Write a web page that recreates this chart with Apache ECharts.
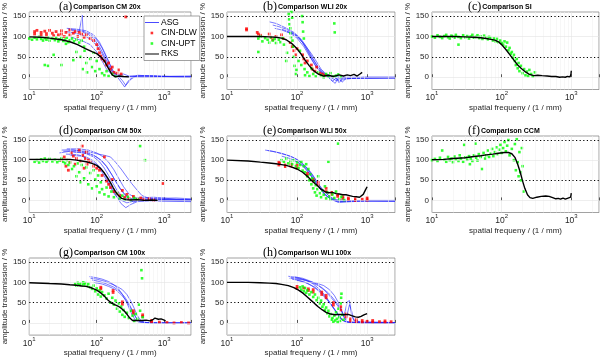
<!DOCTYPE html>
<html>
<head>
<meta charset="utf-8">
<script src="https://cdn.jsdelivr.net/npm/echarts@6/dist/echarts.min.js"></script>
<style>
  html, body { margin: 0; padding: 0; background: #fff; }
  #main { width: 602px; height: 358px; }
</style>
</head>
<body>
<div id="main"></div>
<script>
// ---- data ----
// (a) Comparison CM 20x
var asgA = [
  [[38,118],[50,116],[65,112],[80,106],[100,92],[120,72],[140,48],[160,28],[180,12],[210,3],[300,1],[500,0],[1000,1],[2500,0]],
  [[42,115],[55,112],[61,152],[63,110],[75,105],[90,95],[110,75],[130,52],[150,30],[175,10],[200,2],[260,-24],[290,-10],[350,2],[700,3],[1500,1],[2500,1]],
  [[35,112],[45,109],[60,104],[80,94],[100,78],[120,58],[140,35],[165,15],[200,5],[250,8],[300,3],[600,4],[1200,2],[2500,2]],
  [[40,100],[48,95],[60,90],[80,80],[100,62],[120,40],[140,20],[170,5],[220,0],[400,3],[900,2],[2500,3]],
  [[36,120],[50,118],[70,114],[90,104],[110,86],[130,62],[150,40],[170,18],[200,6],[240,-8],[270,-20],[320,-5],[400,5],[800,2],[2500,0]]
];
var dlwA = [[12,112],[12,106],[13,115],[15,110],[15,104],[17,113],[18,107],[18,100],[20,115],[22,108],[23,102],[25,112],[27,104],[30,114],[30,106],[33,100],[35,110],[40,116],[40,104],[45,108],[48,112],[52,100],[55,110],[60,106],[65,98],[70,104],[80,95],[90,90],[100,80],[105,70],[110,60],[115,52],[120,45],[130,40],[140,30],[150,35],[160,20],[170,25],[180,12],[200,10],[210,18],[230,8],[270,148]];
var uptA = [[10,95],[11,92],[12,97],[13,93],[14,99],[15,94],[16,90],[17,96],[18,92],[19,98],[20,90],[22,95],[24,91],[25,97],[27,88],[28,93],[30,96],[32,89],[34,92],[36,97],[38,86],[40,91],[43,95],[46,88],[50,92],[55,85],[60,90],[17,30],[19,28],[23,55],[30,30],[45,42],[50,62],[58,50],[62,20],[66,65],[70,35],[72,12],[80,45],[85,25],[90,60],[95,15],[100,40],[110,20],[120,10],[130,5],[140,15],[150,3],[170,8],[190,2],[35,82],[65,75]];
var rksA = [[10,99],[15,98],[20,96],[30,92],[40,87],[52,80],[68,70],[85,63],[100,58],[115,50],[130,40],[140,30],[155,17],[170,6],[190,1],[215,3],[250,2],[300,1]];

// (b) Comparison WLI 20x
var asgB = [
  [[40,136],[50,132],[60,126],[75,118],[90,110],[110,97],[130,80],[150,62],[170,45],[200,25],[240,10],[280,2],[320,-10],[360,-2],[400,-14],[450,0],[550,-3],[800,-2],[1500,-2],[2500,-2]],
  [[45,128],[55,124],[70,118],[90,108],[110,94],[135,72],[160,50],[190,30],[220,15],[260,5],[300,-5],[350,-15],[390,0],[440,-12],[500,-3],[1000,-3],[2500,-2]],
  [[48,120],[60,116],[80,108],[100,96],[125,75],[150,52],[180,30],[210,15],[250,5],[300,0],[360,-8],[420,-2],[700,-2],[2500,-1]],
  [[70,112],[85,108],[100,100],[120,85],[140,65],[165,42],[195,22],[230,8],[280,0],[340,3],[400,-10],[460,-5],[900,0],[2500,0]],
  [[60,118],[75,112],[95,104],[115,90],[135,75],[160,58],[190,38],[220,20],[260,8],[320,2],[500,0],[2500,0]]
];
var dlwB = [[19,119],[19,116],[27,110],[28,106],[30,103],[40,106],[42,98],[45,92],[50,100],[60,104],[63,95],[80,85],[85,75],[90,65],[95,55],[100,70],[120,55],[125,45],[130,35],[140,40],[160,30],[165,20],[180,15],[190,25],[210,10],[230,8],[250,5]];
var uptB = [[28,95],[30,100],[32,88],[35,96],[38,92],[40,85],[42,98],[45,90],[48,94],[50,84],[55,92],[58,86],[62,96],[65,80],[28,62],[70,40],[72,60],[76,155],[77,142],[78,130],[80,120],[80,108],[82,98],[83,160],[85,146],[86,90],[88,75],[90,50],[92,28],[95,8],[98,18],[105,40],[110,65],[115,30],[118,150],[120,135],[122,112],[125,95],[128,20],[130,5],[140,12],[150,3],[160,22],[170,8],[185,2],[200,12],[220,5],[240,0],[260,8],[280,3],[300,10],[330,2],[340,132],[345,110],[360,4],[390,7],[420,1]];
var rksB = [[10,100],[20,100],[30,100],[40,99],[50,98],[60,96],[70,92],[85,82],[100,70],[115,56],[130,42],[150,28],[170,17],[200,8],[240,3],[280,5],[330,2],[400,6],[460,3],[520,6],[580,4],[650,7],[720,3],[790,8],[850,12]];

// (c) Comparison SI
var uptC = [[10,100],[11,97],[12,103],[13,99],[14,96],[15,101],[16,104],[17,98],[18,95],[19,102],[20,100],[21,97],[22,104],[24,99],[24,80],[26,96],[28,103],[30,98],[32,101],[34,95],[36,100],[38,104],[40,97],[42,99],[45,103],[48,96],[50,100],[53,94],[56,102],[60,98],[63,93],[66,99],[70,96],[74,90],[78,95],[82,88],[86,94],[90,86],[95,90],[100,84],[105,80],[110,88],[115,75],[120,85],[125,66],[130,72],[135,58],[140,62],[145,48],[150,55],[155,40],[160,30],[165,45],[170,22],[175,35],[180,15],[190,28],[200,10],[210,20],[220,5],[230,14],[240,3],[250,18],[265,8],[280,2],[300,12]];
var rksC = [[10,100],[20,100],[30,99],[40,98],[50,97],[60,95],[70,93],[80,91],[90,87],[100,80],[115,68],[130,56],[150,42],[170,30],[190,22],[220,13],[250,7],[290,4],[330,5],[380,4],[450,3],[520,2],[600,2],[680,0],[750,1],[820,0],[880,2],[930,3],[960,1],[990,8],[1000,16]];

// (d) Comparison CM 50x
var asgD = [
  [[28,118],[40,122],[55,120],[70,116],[90,108],[110,96],[130,80],[150,62],[175,42],[200,25],[240,10],[300,2],[500,0],[1000,2],[2500,1]],
  [[30,125],[45,126],[60,122],[80,116],[100,108],[120,98],[140,85],[165,66],[190,48],[220,30],[260,15],[320,5],[500,3],[1200,2],[2500,0]],
  [[35,115],[50,114],[70,108],[90,98],[110,84],[130,66],[150,46],[175,26],[200,8],[230,-8],[270,-18],[320,-10],[400,-3],[800,0],[2500,-1]],
  [[32,122],[50,124],[70,122],[100,116],[130,112],[160,108],[190,95],[230,78],[280,58],[330,42],[400,25],[470,12],[600,5],[1000,3],[2500,2]],
  [[40,112],[60,110],[80,100],[100,88],[120,70],[140,50],[160,32],[185,15],[220,2],[280,-6],[350,-2],[600,5],[1500,6],[2500,4]],
  [[45,120],[65,118],[90,112],[115,100],[140,84],[170,62],[200,42],[240,22],[290,6],[350,-4],[450,2],[900,-2],[2500,-3]],
  [[36,128],[55,128],[75,125],[100,118],[125,108],[150,95],[180,76],[210,56],[250,34],[300,16],[380,6],[700,8],[1500,3],[2500,2]]
];
var dlwD = [[30,100],[33,108],[35,85],[38,75],[40,95],[42,118],[45,110],[48,90],[50,104],[55,125],[58,98],[61,135],[62,112],[65,80],[68,104],[70,120],[72,90],[75,100],[80,96],[90,85],[100,80],[110,75],[120,62],[130,108],[140,48],[150,40],[160,32],[170,52],[180,22],[200,18],[220,12],[240,25],[260,8],[280,15],[300,5],[350,10],[400,3],[450,6],[500,2],[600,4],[700,1],[950,42]];
var uptD = [[12,96],[13,100],[14,94],[15,102],[16,98],[17,104],[18,96],[19,100],[20,103],[22,97],[24,101],[26,95],[28,99],[30,104],[32,96],[34,92],[36,100],[38,88],[40,94],[43,78],[46,85],[50,60],[52,92],[55,70],[58,45],[60,88],[65,55],[70,82],[75,40],[80,68],[85,30],[90,75],[95,52],[100,35],[105,62],[110,20],[115,45],[120,28],[130,15],[140,32],[150,10],[165,22],[180,8],[200,18],[220,5],[240,12],[260,2],[290,9],[320,1],[360,6],[400,3],[440,135],[520,100]];
var rksD = [[10,102],[20,102],[30,102],[40,102],[50,100],[60,98],[70,96],[85,92],[100,87],[115,79],[130,68],[145,56],[160,44],[175,32],[190,22],[210,12],[235,5],[270,2],[320,1],[400,2],[500,0],[650,1],[800,0]];

// (e) Comparison WLI 50x
var asgE = [
  [[35,125],[45,122],[60,117],[80,110],[100,102],[120,92],[140,80],[165,65],[190,48],[220,32],[260,18],[300,8],[360,2],[500,0],[1000,-1],[2500,-2]],
  [[38,124],[50,120],[70,113],[90,106],[110,96],[130,85],[155,70],[180,54],[210,36],[250,20],[300,8],[350,0],[450,-3],[800,-2],[2500,-2]],
  [[60,110],[80,104],[100,96],[120,86],[140,74],[160,60],[185,45],[215,28],[250,14],[300,4],[400,-2],[700,0],[2500,-1]],
  [[90,100],[110,92],[130,80],[150,66],[175,50],[200,36],[230,22],[270,10],[320,2],[400,-5],[600,-3],[1200,-1],[2500,-1]],
  [[120,90],[140,78],[165,60],[190,42],[220,26],[260,12],[310,2],[380,-4],[500,-2],[1000,0],[2500,0]]
];
var dlwE = [[55,95],[55,88],[56,92],[68,88],[68,84],[82,90],[82,85],[100,87],[100,80],[140,67],[140,62],[170,52],[170,48],[200,45],[200,38],[260,30],[260,22],[310,20],[310,15],[380,14],[380,10],[450,9],[450,5],[540,6],[540,2],[680,4],[680,0],[850,3],[1000,6],[1000,1]];
var uptE = [[60,100],[65,96],[70,104],[75,92],[80,98],[85,90],[90,100],[95,85],[100,94],[105,80],[110,88],[115,96],[120,74],[125,85],[130,70],[135,90],[140,60],[145,78],[150,50],[155,65],[160,40],[165,55],[170,30],[175,48],[180,20],[185,38],[190,12],[195,28],[200,60],[210,18],[220,8],[230,25],[240,14],[250,35],[260,5],[270,20],[280,96],[290,10],[300,2],[320,15],[340,6],[360,22],[385,141],[400,3],[430,9],[470,1]];
var rksE = [[10,100],[20,98],[30,95],[40,93],[50,91],[60,89],[70,87],[80,84],[100,78],[120,70],[140,60],[160,50],[180,42],[200,35],[220,28],[250,22],[280,19],[320,20],[360,17],[400,16],[450,14],[500,14],[560,12],[620,10],[700,9],[780,8],[830,6],[880,15],[940,25],[1000,34]];

// (f) Comparison CCM
var uptF = [[10,100],[11,103],[12,98],[13,106],[14,124],[15,101],[16,96],[17,108],[18,100],[19,104],[20,95],[21,109],[22,102],[24,98],[25,112],[26,104],[28,96],[29,138],[30,107],[32,101],[34,110],[35,90],[36,104],[38,98],[40,112],[42,141],[43,106],[45,99],[47,115],[50,108],[52,78],[55,118],[58,104],[60,112],[63,124],[66,108],[70,116],[73,128],[76,110],[80,120],[84,132],[88,115],[92,126],[96,138],[100,118],[105,130],[110,145],[115,122],[120,136],[125,150],[130,112],[140,128],[150,100],[155,140],[160,75],[165,152],[170,95],[175,60],[180,120],[185,70],[190,50],[195,130],[200,85],[205,22]];
var rksF = [[10,101],[15,102],[20,104],[30,106],[40,109],[50,111],[60,113],[75,115],[90,117],[110,119],[125,119],[140,116],[155,107],[170,90],[185,70],[200,48],[215,30],[235,14],[255,7],[280,5],[320,8],[370,10],[430,11],[480,10],[540,7],[600,4],[650,5],[700,3],[760,6],[820,3],[880,5],[940,2],[980,8],[1000,18]];

// (g) Comparison CM 100x
var asgG = [
  [[78,114],[95,112],[120,108],[150,102],[180,94],[210,84],[240,70],[270,55],[300,38],[330,22],[370,8],[420,2],[600,0],[1200,0],[2500,0]],
  [[80,110],[100,108],[130,103],[160,97],[200,90],[240,82],[280,70],[320,54],[360,36],[400,18],[450,6],[520,1],[1000,0],[2500,0]],
  [[85,106],[110,102],[140,96],[180,88],[220,78],[260,64],[300,48],[340,30],[380,14],[430,4],[600,0],[2500,0]],
  [[90,100],[120,96],[150,90],[190,82],[230,70],[270,56],[310,40],[350,24],[390,10],[450,2],[800,0],[2500,0]]
];
var dlwG = [[115,88],[115,84],[175,80],[175,75],[240,52],[240,46],[350,30],[350,24],[480,20],[480,16],[650,6],[650,3],[850,2],[1100,1],[1400,0],[1800,1],[2300,0]];
var uptG = [[48,96],[50,92],[52,99],[55,94],[58,97],[60,93],[63,100],[65,95],[68,98],[72,91],[75,96],[80,88],[85,84],[90,92],[95,78],[100,85],[105,70],[110,80],[115,65],[120,76],[130,68],[140,60],[150,72],[160,50],[170,62],[180,45],[190,55],[200,35],[210,48],[220,28],[230,40],[240,20],[250,32],[260,15],[280,25],[300,12],[320,30],[340,18],[360,5],[380,22],[400,10],[420,45],[440,30],[460,130],[470,110],[480,14]];
var rksG = [[10,99],[20,97],[30,96],[40,94],[50,93],[60,91],[70,90],[85,86],[100,81],[115,74],[130,66],[145,57],[165,49],[185,45],[210,41],[235,35],[260,28],[285,20],[310,12],[340,6],[400,6],[470,6],[540,7],[620,5],[680,8],[730,12],[780,14],[820,9],[860,6],[900,10],[950,12],[1000,7],[1050,5]];

// (h) Comparison WLI 100x
var asgH = [
  [[75,115],[90,113],[110,110],[140,104],[170,96],[200,86],[240,72],[280,56],[320,40],[370,24],[420,10],[480,3],[700,1],[1500,0],[2500,0]],
  [[80,112],[100,110],[130,106],[160,100],[200,92],[240,82],[280,70],[330,56],[380,42],[430,30],[470,18],[520,52],[560,55],[600,20],[650,5],[900,2],[2500,1]],
  [[85,108],[110,104],[140,98],[180,88],[220,76],[260,62],[300,48],[350,32],[400,18],[450,6],[550,1],[1000,0],[2500,0]],
  [[90,114],[120,110],[150,104],[190,96],[230,86],[280,74],[330,60],[380,46],[420,34],[460,18],[500,8],[560,45],[600,30],[640,8],[800,2],[2500,1]],
  [[100,105],[130,100],[160,92],[200,80],[240,66],[290,50],[340,34],[390,20],[440,8],[520,2],[1200,0],[2500,0]],
  [[78,110],[95,108],[120,106],[150,102],[190,98],[240,92],[290,82],[340,68],[390,50],[430,32],[470,12],[520,3],[800,0],[2500,0]]
];
var dlwH = [[100,90],[100,85],[125,86],[145,84],[145,80],[170,82],[170,76],[225,76],[225,70],[260,68],[260,62],[330,50],[330,44],[420,40],[420,32],[500,22],[500,15],[580,10],[580,5],[700,8],[700,3],[850,6],[850,2],[1000,4],[1200,6],[1200,2],[1500,3],[1800,5],[1800,1],[2200,3]];
var uptH = [[110,88],[115,82],[120,90],[125,78],[130,86],[135,74],[140,80],[150,70],[160,76],[170,64],[180,70],[190,56],[200,62],[210,48],[220,55],[230,40],[240,46],[250,32],[260,38],[270,24],[280,30],[290,16],[300,22],[310,8],[320,12],[330,3],[340,18],[350,6],[360,26],[370,10],[380,2],[390,35],[400,14],[410,5],[420,48],[425,62],[430,72],[440,20],[460,8]];
var rksH = [[10,100],[20,100],[30,99],[40,98],[50,97],[60,95],[75,92],[90,87],[105,81],[120,74],[140,64],[160,55],[180,47],[200,40],[230,32],[260,26],[300,22],[350,20],[400,21],[470,20],[540,21],[600,18],[680,15],[750,14],[820,16],[900,20],[1000,23]];

var panelLetters = ['a','b','c','d','e','f','g','h'];
var panelTitles = ['Comparison CM 20x','Comparison WLI 20x','Comparison SI','Comparison CM 50x','Comparison WLI 50x','Comparison CCM','Comparison CM 100x','Comparison WLI 100x'];
var minorX = [20,30,40,50,60,70,80,90,200,300,400,500,600,700,800,900,2000];

var panelData = [
  {asg: asgA, dlw: dlwA, upt: uptA, rks: rksA},
  {asg: asgB, dlw: dlwB, upt: uptB, rks: rksB},
  {asg: [],   dlw: [],   upt: uptC, rks: rksC},
  {asg: asgD, dlw: dlwD, upt: uptD, rks: rksD},
  {asg: asgE, dlw: dlwE, upt: uptE, rks: rksE},
  {asg: [],   dlw: [],   upt: uptF, rks: rksF},
  {asg: asgG, dlw: dlwG, upt: uptG, rks: rksG},
  {asg: asgH, dlw: dlwH, upt: uptH, rks: rksH}
];

// ---- layout ----
var colLeft = [23, 227, 432];
var rowTop = [12, 136, 258];
var rowH = [77.5, 76.5, 78];
var plotW = 168;
var FONT = 'Liberation Sans, Arial, sans-serif';
var TXT = '#262626';

var grids = [], xAxes = [], yAxes = [], series = [], titles = [];

panelData.forEach(function (d, i) {
  var col = i % 3, row = Math.floor(i / 3);
  var left = colLeft[col], top = rowTop[row];
  grids.push({
    left: left, top: top, width: plotW, height: rowH[row],
    show: true, borderColor: '#7a7a7a', borderWidth: 0.7, backgroundColor: '#fff'
  });
  xAxes.push({
    type: 'log', logBase: 10, min: 10, max: 2500, gridIndex: i,
    name: 'spatial frequeny / (1 / mm)', nameLocation: 'middle', nameGap: 12,
    nameTextStyle: {fontFamily: FONT, fontSize: 8, color: TXT},
    axisLine: {show: false},
    axisTick: {inside: true, length: 3, lineStyle: {color: '#555'}},
    splitLine: {show: true, lineStyle: {color: '#e4e4e4', width: 0.6}},
    axisLabel: {
      margin: 1, color: TXT,
      formatter: function (v) {
        var e = Math.log10(v);
        if (Math.abs(e - Math.round(e)) > 1e-6) return '';
        return '{b|10}{s|' + Math.round(e) + '}';
      },
      rich: {
        b: {fontFamily: FONT, fontSize: 8.5, color: TXT, lineHeight: 12, verticalAlign: 'bottom'},
        s: {fontFamily: FONT, fontSize: 6, color: TXT, lineHeight: 6, verticalAlign: 'top'}
      }
    }
  });
  yAxes.push({
    type: 'value', min: -30, max: 160, interval: 10, gridIndex: i,
    name: 'amplitude transmission / %', nameLocation: 'middle', nameGap: 14,
    nameTextStyle: {fontFamily: FONT, fontSize: 8, color: TXT},
    axisLine: {show: false}, axisTick: {show: false}, splitLine: {show: false},
    axisLabel: {
      margin: 3, fontFamily: FONT, fontSize: 8, color: TXT,
      formatter: function (v) { return v % 50 === 0 ? String(v) : ''; }
    }
  });
  // faint grid: minor x lines and y major lines
  series.push({
    type: 'line', xAxisIndex: i, yAxisIndex: i, data: [], silent: true, z: 1,
    markLine: {
      silent: true, symbol: 'none', label: {show: false}, animation: false,
      lineStyle: {color: '#f1f1f1', width: 0.6, type: 'solid'},
      data: minorX.map(function (v) { return {xAxis: v}; })
        .concat([0, 100].map(function (v) { return {yAxis: v, lineStyle: {color: '#e2e2e2'}}; }))
    }
  });
  d.asg.forEach(function (c) {
    series.push({
      type: 'line', name: 'ASG', xAxisIndex: i, yAxisIndex: i, data: c,
      symbol: 'none', z: 2, animation: false,
      lineStyle: {color: '#2020ff', width: 0.8, opacity: 0.75},
      itemStyle: {color: '#2020ff'}
    });
  });
  if (d.dlw.length) {
    series.push({
      type: 'scatter', name: 'CIN-DLW', xAxisIndex: i, yAxisIndex: i, data: d.dlw,
      symbol: 'rect', symbolSize: 2.8, z: 3, animation: false,
      itemStyle: {color: '#ff0000'}
    });
  }
  series.push({
    type: 'scatter', name: 'CIN-UPT', xAxisIndex: i, yAxisIndex: i, data: d.upt,
    symbol: 'rect', symbolSize: 2.6, z: 4, animation: false,
    itemStyle: {color: '#00ff00'}
  });
  series.push({
    type: 'line', name: 'RKS', xAxisIndex: i, yAxisIndex: i, data: d.rks,
    symbol: 'none', z: 5, animation: false,
    lineStyle: {color: '#000', width: 1.4},
    itemStyle: {color: '#000'},
    markLine: {
      silent: true, symbol: 'none', label: {show: false}, animation: false,
      lineStyle: {color: '#000', width: 1.1, type: [1.2, 2.4]},
      data: [{yAxis: 50}, {yAxis: 150}]
    }
  });
  var tleft = left + plotW / 2 - 48;
  titles.push({
    text: '{p|(' + panelLetters[i] + ')}{t|' + panelTitles[i] + '}',
    left: tleft, top: top - 12, padding: 0,
    textStyle: {
      fontWeight: 'normal',
      rich: {
        p: {fontFamily: 'Liberation Serif, serif', fontSize: 12, fontWeight: 'normal', color: '#000', lineHeight: 13},
        t: {fontFamily: FONT, fontSize: 7, fontWeight: 'bold', color: '#000', lineHeight: 13, padding: [2, 0, 0, 1]}
      }
    }
  });
});

// legend icons: thin line for curves, small square for markers (padded paths)
var lineIcon = 'path://M0,0L0,0M14,8L14,8M0,3.5h14v1h-14z';
var sqIcon = 'path://M0,0L0,0M14,8L14,8M5.6,2.7h2.6v2.6h-2.6z';
var chart = echarts.init(document.getElementById('main'), null, {renderer: 'canvas'});
chart.setOption({
  animation: false,
  backgroundColor: '#fff',
  title: titles,
  grid: grids,
  xAxis: xAxes,
  yAxis: yAxes,
  legend: {
    left: 144, top: 16, orient: 'vertical',
    backgroundColor: '#fff', borderColor: '#7a7a7a', borderWidth: 0.7,
    padding: [2, 3, 2, 1], itemGap: 1.5, itemWidth: 14, itemHeight: 8,
    textStyle: {fontFamily: FONT, fontSize: 8.5, color: '#000', padding: [0, 0, 0, -3]},
    data: [
      {name: 'ASG', icon: lineIcon, itemStyle: {color: '#4a4aff'}},
      {name: 'CIN-DLW', icon: sqIcon},
      {name: 'CIN-UPT', icon: sqIcon},
      {name: 'RKS', icon: lineIcon, itemStyle: {color: '#000'}}
    ],
    selectedMode: false, z: 10
  },
  series: series
});
</script>
</body>
</html>
